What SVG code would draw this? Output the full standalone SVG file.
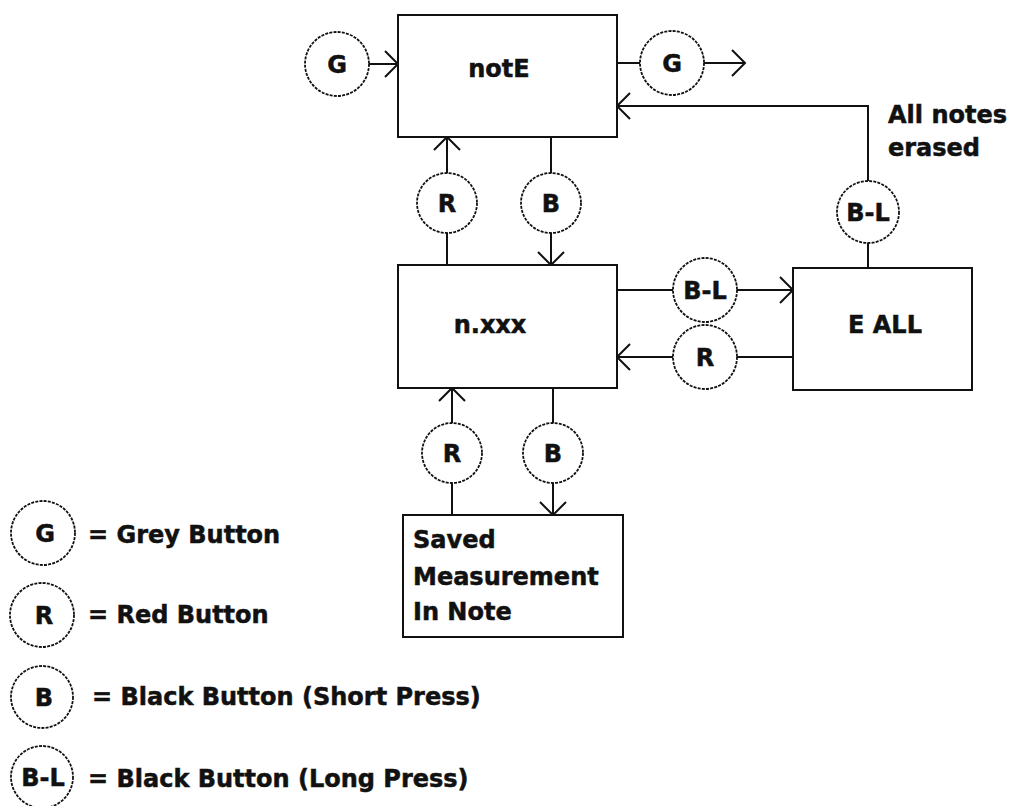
<svg xmlns="http://www.w3.org/2000/svg" width="1014" height="806" viewBox="0 0 1014 806">
<style>
.box{fill:#fff;stroke:#111;stroke-width:2}
.btn{fill:#fff;stroke:#111;stroke-width:1.8;stroke-dasharray:3 1.2}
.ln{fill:none;stroke:#111;stroke-width:2}
.t{font-family:"DejaVu Sans",Verdana,sans-serif;font-weight:bold;font-size:24px;fill:#111;stroke:#111;stroke-width:0.5}
.c{text-anchor:middle}
</style>
<defs>
<marker id="ah" markerUnits="userSpaceOnUse" markerWidth="30" markerHeight="30" viewBox="-15 -15 30 30" refX="0" refY="0" orient="auto">
<path d="M-13,-13 L0,0 L-13,13" fill="none" stroke="#111" stroke-width="2"/>
</marker>
</defs>
<rect width="1014" height="806" fill="#fff"/>
<g id="connectors">
<line class="ln" x1="369" y1="64" x2="398" y2="64" marker-end="url(#ah)"/>
<line class="ln" x1="617" y1="63" x2="640" y2="63"/>
<line class="ln" x1="704" y1="63" x2="745" y2="63" marker-end="url(#ah)"/>
<line class="ln" x1="868" y1="268" x2="868" y2="243"/>
<polyline class="ln" points="868,181 868,106 617,106" marker-end="url(#ah)"/>
<line class="ln" x1="447" y1="265" x2="447" y2="233"/>
<line class="ln" x1="447" y1="173" x2="447" y2="137" marker-end="url(#ah)"/>
<line class="ln" x1="551" y1="137" x2="551" y2="173"/>
<line class="ln" x1="551" y1="233" x2="551" y2="265" marker-end="url(#ah)"/>
<line class="ln" x1="617" y1="290" x2="673" y2="290"/>
<line class="ln" x1="737" y1="290" x2="793" y2="290" marker-end="url(#ah)"/>
<line class="ln" x1="793" y1="357" x2="737" y2="357"/>
<line class="ln" x1="673" y1="357" x2="617" y2="357" marker-end="url(#ah)"/>
<line class="ln" x1="452" y1="515" x2="452" y2="483"/>
<line class="ln" x1="452" y1="423" x2="452" y2="388" marker-end="url(#ah)"/>
<line class="ln" x1="553" y1="388" x2="553" y2="423"/>
<line class="ln" x1="553" y1="483" x2="553" y2="515" marker-end="url(#ah)"/>
</g>
<g id="notE"><rect class="box" x="398" y="15" width="219" height="122"/><text class="t c" x="499" y="77">notE</text></g>
<g id="nxxx"><rect class="box" x="398" y="265" width="219" height="123"/><text class="t c" x="490" y="333">n.xxx</text></g>
<g id="eall"><rect class="box" x="793" y="268" width="179" height="122"/><text class="t c" x="885" y="333">E ALL</text></g>
<g id="saved"><rect class="box" x="403" y="515" width="220" height="122"/>
<text class="t" x="413" y="548">Saved</text>
<text class="t" x="413" y="585">Measurement</text>
<text class="t" x="413" y="620">In Note</text></g>
<g id="note-erased"><text class="t" x="888" y="123">All notes</text><text class="t" x="888" y="156">erased</text></g>
<g id="btn-g1"><circle class="btn" cx="337" cy="64" r="32"/><text class="t c" x="337" y="73">G</text></g>
<g id="btn-g2"><circle class="btn" cx="672" cy="63" r="32"/><text class="t c" x="672" y="72">G</text></g>
<g id="btn-bl1"><circle class="btn" cx="868" cy="212" r="31"/><text class="t c" x="868" y="221">B-L</text></g>
<g id="btn-r1"><circle class="btn" cx="447" cy="203" r="30"/><text class="t c" x="447" y="212">R</text></g>
<g id="btn-b1"><circle class="btn" cx="551" cy="203" r="30"/><text class="t c" x="551" y="212">B</text></g>
<g id="btn-bl2"><circle class="btn" cx="705" cy="290" r="32"/><text class="t c" x="705" y="299">B-L</text></g>
<g id="btn-r2"><circle class="btn" cx="705" cy="357" r="32"/><text class="t c" x="705" y="366">R</text></g>
<g id="btn-r3"><circle class="btn" cx="452" cy="453" r="30"/><text class="t c" x="452" y="462">R</text></g>
<g id="btn-b2"><circle class="btn" cx="553" cy="453" r="30"/><text class="t c" x="553" y="462">B</text></g>
<g id="legend">
<circle class="btn" cx="43" cy="533" r="32"/><text class="t c" x="45" y="542">G</text><text class="t" x="88" y="543">= Grey Button</text>
<circle class="btn" cx="42" cy="615" r="32"/><text class="t c" x="44" y="624">R</text><text class="t" x="88" y="623">= Red Button</text>
<circle class="btn" cx="42" cy="697" r="31"/><text class="t c" x="44" y="706">B</text><text class="t" x="92" y="705">= Black Button (Short Press)</text>
<circle class="btn" cx="42" cy="777" r="31"/><text class="t c" x="43" y="786">B-L</text><text class="t" x="88" y="787">= Black Button (Long Press)</text>
</g>
</svg>
